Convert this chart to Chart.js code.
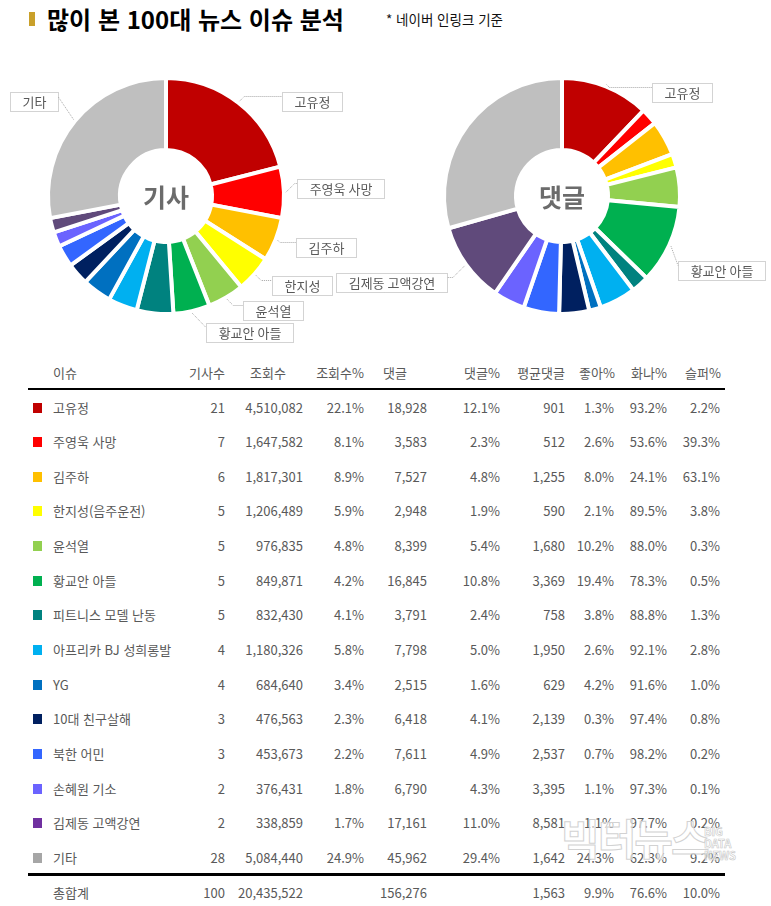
<!DOCTYPE html>
<html lang="ko">
<head>
<meta charset="utf-8">
<title>많이 본 100대 뉴스 이슈 분석</title>
<script src="https://cdn.jsdelivr.net/npm/chart.js@4"></script>
<style>
    html, body { margin: 0; padding: 0; background: #fff; }
    body { width: 771px; height: 906px; position: relative; overflow: hidden;
           font-family: "Noto Sans CJK KR", "Noto Sans", sans-serif; color: #595959; }
    .abs { position: absolute; white-space: nowrap; }
    .cell { position: absolute; height: 20px; line-height: 20px; font-size: 13px; white-space: nowrap; }
    .r { text-align: right; width: 200px; }
    canvas { position: absolute; }
</style>
</head>
<body>
<div class="abs" style="left:29px;top:12px;width:6px;height:14px;background:#C9A02A;"></div>
<div class="abs" style="left:47px;top:2px;font-size:24px;font-weight:bold;color:#000;line-height:34px;">많이 본 100대 뉴스 이슈 분석</div>
<div class="abs" style="left:386px;top:9px;font-size:13.5px;color:#111;line-height:20px;">* 네이버 인링크 기준</div>

<canvas id="articleChart" width="390" height="290" style="left:0;top:60px;"></canvas>
<canvas id="commentChart" width="441" height="290" style="left:330px;top:60px;"></canvas>

<div id="table"></div>

<div class="abs" style="left:561px;top:806px;font-size:42px;font-weight:bold;color:rgba(255,255,255,0.6);-webkit-text-stroke:1px #d2d2d2;letter-spacing:-2px;">빅터뉴스</div>
<div class="abs" style="left:704px;top:825px;font-size:11px;line-height:12px;font-weight:bold;color:rgba(255,255,255,0.6);-webkit-text-stroke:0.6px #c8c8c8;">BIG<br>DATA<br>NEWS</div>

<script>
// 이슈 목록 (표 / 도넛 공통 순서)
const issues = ['고유정', '주영욱 사망', '김주하', '한지성(음주운전)', '윤석열', '황교안 아들',
    '피트니스 모델 난동', '아프리카 BJ 성희롱발', 'YG', '10대 친구살해', '북한 어민',
    '손혜원 기소', '김제동 고액강연', '기타'];
const pieLabels = ['고유정', '주영욱 사망', '김주하', '한지성', '윤석열', '황교안 아들',
    '피트니스 모델 난동', '아프리카 BJ 성희롱발', 'YG', '10대 친구살해', '북한 어민',
    '손혜원 기소', '김제동 고액강연', '기타'];

const articles = [21, 7, 6, 5, 5, 5, 5, 4, 4, 3, 3, 2, 2, 28];
const views = [4510082, 1647582, 1817301, 1206489, 976835, 849871, 832430, 1180326,
    684640, 476563, 453673, 376431, 338859, 5084440];
const viewPct = [22.1, 8.1, 8.9, 5.9, 4.8, 4.2, 4.1, 5.8, 3.4, 2.3, 2.2, 1.8, 1.7, 24.9];
const comments = [18928, 3583, 7527, 2948, 8399, 16845, 3791, 7798, 2515, 6418, 7611,
    6790, 17161, 45962];
const commentPct = [12.1, 2.3, 4.8, 1.9, 5.4, 10.8, 2.4, 5.0, 1.6, 4.1, 4.9, 4.3, 11.0, 29.4];
const avgComments = [901, 512, 1255, 590, 1680, 3369, 758, 1950, 629, 2139, 2537, 3395, 8581, 1642];
const likePct = [1.3, 2.6, 8.0, 2.1, 10.2, 19.4, 3.8, 2.6, 4.2, 0.3, 0.7, 1.1, 1.1, 24.3];
const angryPct = [93.2, 53.6, 24.1, 89.5, 88.0, 78.3, 88.8, 92.1, 91.6, 97.4, 98.2, 97.3, 97.7, 62.3];
const sadPct = [2.2, 39.3, 63.1, 3.8, 0.3, 0.5, 1.3, 2.8, 1.0, 0.8, 0.2, 0.1, 0.2, 9.2];

const totalRow = ['총합계', 100, 20435522, null, 156276, null, 1563, 9.9, 76.6, 10.0];

// Colors for slices and table markers
const CHART_COLORS = [
    '#C00000', '#FF0000', '#FFC000', '#FFFF00', '#92D050', '#00B050', '#00827F',
    '#00B0F0', '#0070C0', '#002060', '#3366FF', '#6B63FF', '#604A7B', '#BFBFBF'
];
const MARKER_COLORS = CHART_COLORS.slice();
MARKER_COLORS[12] = '#7030A0';
MARKER_COLORS[13] = '#A6A6A6';

const FONT = '"Noto Sans CJK KR", "Noto Sans", sans-serif';

/**
 * Writes the center caption of a doughnut
 */
const centerTextPlugin = {
    id: 'centerText',
    afterDraw(chart, args, opts) {
        const arc = chart.getDatasetMeta(0).data[0];
        if (!arc) return;
        const ctx = chart.ctx;
        ctx.save();
        ctx.font = 'bold 25px ' + FONT;
        ctx.fillStyle = '#6b6b6b';
        ctx.textAlign = 'center';
        ctx.textBaseline = 'middle';
        ctx.fillText(opts.text, arc.x, arc.y + 1);
        ctx.restore();
    }
};

/**
 * Dotted callout boxes with leader lines, like the Excel data labels
 */
const calloutPlugin = {
    id: 'callouts',
    afterDraw(chart, args, opts) {
        const ctx = chart.ctx;
        const meta = chart.getDatasetMeta(0);
        ctx.save();
        ctx.font = '13px ' + FONT;
        (opts.items || []).forEach(item => {
            const arc = meta.data[item.index];
            const p = arc.getProps(['x', 'y', 'startAngle', 'endAngle', 'outerRadius'], true);
            const mid = (p.startAngle + p.endAngle) / 2;
            const r = p.outerRadius + 2;
            const sx = p.x + Math.cos(mid) * r;
            const sy = p.y + Math.sin(mid) * r;
            const label = chart.data.labels[item.index];
            const w = Math.round(ctx.measureText(label).width) + 24;
            const h = 19;
            const right = item.side === 'right';
            const left = right ? item.x : item.x - w;
            const top = item.y;
            const ly = top + 4.5;
            const ex = right ? left : left + w;
            const sign = right ? 1 : -1;
            let elx = sx + sign * Math.abs(ly - sy);
            if (sign * (elx - ex) > 0) elx = ex;

            ctx.strokeStyle = '#a6a6a6';
            ctx.lineWidth = 1;
            ctx.setLineDash([1, 1]);
            ctx.beginPath();
            ctx.moveTo(sx, sy);
            ctx.lineTo(elx, ly);
            ctx.lineTo(ex, ly);
            ctx.stroke();
            ctx.strokeRect(left + 0.5, top + 0.5, w, h);
            ctx.setLineDash([]);
            ctx.fillStyle = '#595959';
            ctx.textAlign = 'center';
            ctx.textBaseline = 'middle';
            ctx.fillText(label, left + w / 2 + 0.5, top + h / 2 + 1);
        });
        ctx.restore();
    }
};

function createDoughnut(elementId, values, centerText, padding, callouts) {
    const ctx = document.getElementById(elementId).getContext('2d');
    return new Chart(ctx, {
        type: 'doughnut',
        data: {
            labels: pieLabels,
            datasets: [{
                data: values,
                backgroundColor: CHART_COLORS,
                borderColor: '#ffffff',
                borderWidth: 4,
                hoverOffset: 0
            }]
        },
        options: {
            responsive: false,
            animation: false,
            cutout: '39%',
            layout: { padding: padding },
            plugins: {
                legend: { display: false },
                tooltip: { enabled: false },
                centerText: { text: centerText },
                callouts: { items: callouts }
            }
        },
        plugins: [centerTextPlugin, calloutPlugin]
    });
}

createDoughnut('articleChart', articles, '기사',
    { left: 46, top: 16, right: 104, bottom: 34 },
    [
        { index: 0, side: 'right', x: 282, y: 32 },
        { index: 1, side: 'right', x: 297, y: 119 },
        { index: 2, side: 'right', x: 296, y: 178 },
        { index: 3, side: 'right', x: 272, y: 216 },
        { index: 4, side: 'right', x: 243, y: 241 },
        { index: 5, side: 'right', x: 206, y: 263 },
        { index: 13, side: 'left', x: 58, y: 32 }
    ]);

createDoughnut('commentChart', comments, '댓글',
    { left: 112, top: 16, right: 89, bottom: 34 },
    [
        { index: 0, side: 'right', x: 322, y: 23 },
        { index: 5, side: 'right', x: 348, y: 201 },
        { index: 12, side: 'left', x: 117, y: 213 }
    ]);

// ---- table ----
const table = document.getElementById('table');
const colRight = [225, 303, 364, 427, 500, 565, 614, 667, 720];
const fmtInt = v => v.toLocaleString('en-US');
const fmtPct = v => v.toFixed(1) + '%';

function cell(text, x, y, alignRight) {
    const d = document.createElement('div');
    d.className = 'cell' + (alignRight ? ' r' : '');
    d.style.left = (alignRight ? x - 200 : x) + 'px';
    d.style.top = (y - 10) + 'px';
    d.textContent = text;
    table.appendChild(d);
}

function line(y, thick) {
    const d = document.createElement('div');
    d.className = 'abs';
    d.style.cssText = 'left:28px;width:697px;top:' + y + 'px;height:' + thick + 'px;background:#000;';
    table.appendChild(d);
}

// header
const headY = 373;
cell('이슈', 53, headY);
cell('기사수', 225, headY, true);
cell('조회수', 250, headY);
cell('조회수%', 364, headY, true);
cell('댓글', 383, headY);
cell('댓글%', 500, headY, true);
cell('평균댓글', 565, headY, true);
cell('좋아%', 615, headY, true);
cell('화나%', 667, headY, true);
cell('슬퍼%', 721, headY, true);
line(388, 2);

const rowStart = 407.5;
const rowStep = 34.65;
issues.forEach((name, i) => {
    const y = rowStart + i * rowStep;
    const m = document.createElement('div');
    m.className = 'abs';
    m.style.cssText = 'left:33px;top:' + (y - 5) + 'px;width:9px;height:10px;background:' + MARKER_COLORS[i] + ';';
    table.appendChild(m);
    cell(name, 53, y);
    const vals = [
        articles[i], fmtInt(views[i]), fmtPct(viewPct[i]), fmtInt(comments[i]),
        fmtPct(commentPct[i]), fmtInt(avgComments[i]), fmtPct(likePct[i]),
        fmtPct(angryPct[i]), fmtPct(sadPct[i])
    ];
    vals.forEach((v, c) => cell(String(v), colRight[c], y, true));
});

line(873, 3);

const totY = 893;
cell(totalRow[0], 53, totY);
const totFmt = [String, fmtInt, null, fmtInt, null, fmtInt, fmtPct, fmtPct, fmtPct];
totalRow.slice(1).forEach((v, c) => {
    if (v === null) return;
    cell(totFmt[c](v), colRight[c], totY, true);
});
</script>
</body>
</html>
